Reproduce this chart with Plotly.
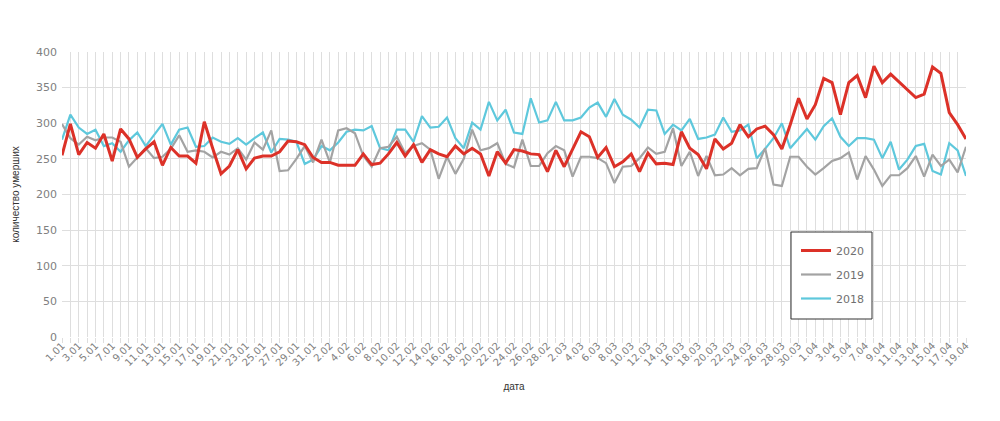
import plotly.graph_objects as go

# --- categories (day.month), 2020 without 29.02 as in the reference axis ---
month_days = [(1, 31), (2, 28), (3, 31), (4, 19)]
dates = [f"{d}.{m:02d}" for m, n in month_days for d in range(1, n + 1)]
tick_labels = dates[::2]

deaths_2020 = [
    255, 299, 256, 273, 265, 285, 247, 292, 278, 252,
    264, 274, 241, 266, 254, 254, 244, 302, 265, 229,
    240, 263, 236, 251, 254, 254, 260, 275, 274, 270,
    252, 245, 245, 241, 241, 241, 257, 242, 244, 257,
    273, 254, 270, 245, 263, 257, 253, 268, 257, 265,
    257, 226, 260, 244, 263, 261, 257, 256, 232, 262,
    239, 263, 288, 281, 252, 266, 239, 246, 257, 232,
    258, 243, 244, 242, 288, 265, 256, 236, 278, 264,
    272, 298, 281, 292, 296, 284, 264, 298, 335, 306,
    326, 363, 357, 312, 357, 367, 336, 380, 357, 369,
    358, 347, 336, 341, 379, 370, 315, 298, 278,
]

deaths_2019 = [
    299, 279, 270, 281, 276, 280, 280, 274, 239, 252,
    265, 251, 253, 264, 283, 260, 262, 260, 252, 260,
    256, 265, 249, 273, 263, 290, 233, 234, 250, 268,
    245, 277, 245, 290, 293, 286, 254, 239, 265, 267,
    281, 258, 268, 272, 263, 222, 253, 229, 250, 291,
    262, 265, 272, 243, 238, 277, 240, 240, 258, 268,
    262, 225, 253, 253, 251, 244, 216, 239, 240, 251,
    266, 257, 260, 293, 240, 260, 226, 254, 227, 228,
    237, 227, 236, 237, 265, 214, 212, 253, 253, 239,
    228, 237, 247, 251, 259, 221, 254, 235, 212, 227,
    227, 237, 254, 225, 256, 240, 249, 231, 267,
]

deaths_2018 = [
    277, 312, 294, 285, 291, 268, 272, 260, 276, 287,
    268, 284, 299, 270, 291, 294, 267, 268, 280, 274,
    271, 279, 270, 279, 287, 259, 278, 277, 274, 243,
    249, 268, 262, 273, 288, 291, 290, 296, 265, 262,
    291, 291, 274, 310, 294, 295, 308, 279, 265, 301,
    291, 330, 304, 319, 287, 285, 335, 301, 304, 330,
    304, 304, 308, 322, 329, 309, 334, 312, 305, 294,
    319, 318, 285, 298, 290, 306, 278, 280, 284, 308,
    288, 290, 298, 251, 264, 279, 300, 265, 279, 292,
    277, 296, 307, 281, 268, 279, 279, 277, 251, 274,
    235, 249, 268, 271, 233, 228, 272, 262, 226,
]

# (name, values, colour, width, legend rank)
series = [
    ("2018", deaths_2018, "#5ec8dc", 2.2, 3),
    ("2019", deaths_2019, "#a3a3a3", 2.2, 2),
    ("2020", deaths_2020, "#dc3128", 3.0, 1),
]

fig = go.Figure()
# invisible helper trace on the daily grid axis
fig.add_trace(go.Scatter(
    x=dates, y=deaths_2020, xaxis="x2", mode="lines",
    line=dict(color="rgba(0,0,0,0)", width=0),
    showlegend=False, hoverinfo="skip",
))
for name, vals, color, width, rank in series:
    fig.add_trace(go.Scatter(
        x=dates, y=vals, name=name, mode="lines",
        line=dict(color=color, width=width),
        legendgroup=name, legendrank=rank,
    ))

axis_font = dict(family="Liberation Sans", size=10, color="#333333")
PW, PH, L, T = 904, 285, 62, 52

# legend frame
fig.add_shape(type="rect", xref="paper", yref="paper",
              x0=(791 - L) / PW, x1=(872 - L) / PW,
              y0=(337 - 319) / PH, y1=(337 - 232) / PH,
              line=dict(color="#333333", width=1), fillcolor="white",
              layer="above")

fig.update_layout(
    width=1000, height=421,
    margin=dict(l=L, r=34, t=T, b=84),
    paper_bgcolor="white", plot_bgcolor="white",
    showlegend=True,
    legend=dict(
        x=(796 - L) / PW, y=(337 - 236) / PH,
        xanchor="left", yanchor="top",
        bgcolor="rgba(0,0,0,0)", borderwidth=0,
        font=dict(family="DejaVu Sans", size=11, color="#707070"),
        traceorder="grouped", tracegroupgap=5,
    ),
    xaxis=dict(
        type="category",
        categoryorder="array", categoryarray=dates,
        range=[0, len(dates) - 1],
        tickmode="array", tickvals=tick_labels, ticktext=tick_labels,
        tickangle=-45,
        tickfont=dict(family="DejaVu Sans", size=10, color="#808080"),
        showgrid=False, ticks="", showline=False, zeroline=False,
        title=dict(text="дата", standoff=15, font=axis_font),
    ),
    xaxis2=dict(
        type="category", overlaying="x", side="bottom",
        categoryorder="array", categoryarray=dates,
        range=[0, len(dates) - 1],
        tickmode="array", tickvals=dates,
        showticklabels=False,
        showgrid=True, gridcolor="#dedede", gridwidth=1,
        ticks="outside", ticklen=5, tickcolor="#dedede",
        showline=False, zeroline=False,
    ),
    yaxis=dict(
        range=[0, 400], tickvals=[0, 50, 100, 150, 200, 250, 300, 350, 400],
        tickfont=dict(family="DejaVu Sans", size=11, color="#808080"),
        showgrid=True, gridcolor="#dedede", gridwidth=1,
        zeroline=False, showline=False,
        ticks="", ticklabelstandoff=4,
        title=dict(text="количество умерших", standoff=14, font=axis_font),
    ),
)

fig.write_html("out.html", config={"displayModeBar": False},
               post_script="document.body.style.margin='0';")
